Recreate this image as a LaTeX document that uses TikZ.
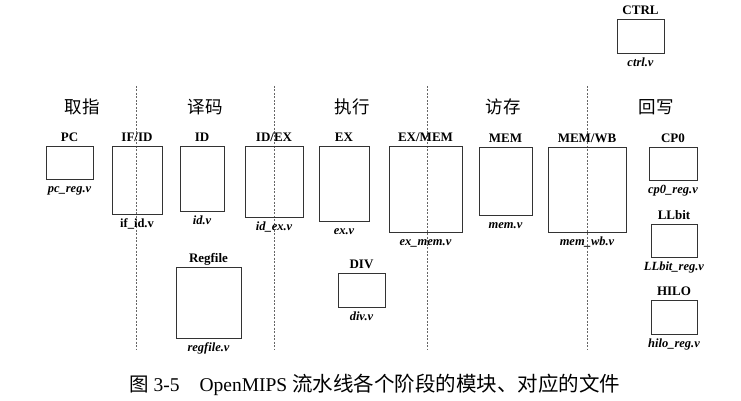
\documentclass[tikz,border=0pt]{standalone}
\usepackage{fontspec}
\setmainfont{Liberation Serif}
\newfontfamily\cjk{Noto Sans CJK SC}
\usetikzlibrary{fit}
\tikzset{
  blk/.style={draw=black!80, line width=0.8pt, inner sep=0pt},
  ttl/.style={font=\fontsize{13}{15}\selectfont\bfseries, anchor=base, inner sep=0pt},
  fil/.style={font=\fontsize{12.5}{14}\selectfont\bfseries\itshape, anchor=base, inner sep=0pt},
  stage/.style={font=\fontsize{17.5}{20}\selectfont\cjk, inner sep=0pt},
  sep/.style={draw=black!60, line width=0.6pt, dash pattern=on 2pt off 1.5pt}
}
\newcommand\modblk[7]{%
  \coordinate (#1-a) at (#2,#3);
  \coordinate (#1-b) at (#4,#5);
  \node[blk, fit=(#1-a)(#1-b)] (#1) {};
  \node[ttl, yshift=4pt] (#1-t) at (#1.north) {#6};
  \node[fil, yshift=-13pt] (#1-f) at (#1.south) {#7};
}
\begin{document}
\begin{tikzpicture}[x=1pt,y=-1pt]
\useasboundingbox (0,0) rectangle (741,401);
% separators
\draw[sep] (136,86) -- (136,350);
\draw[sep] (274,86) -- (274,350);
\draw[sep] (427,86) -- (427,350);
\draw[sep] (587,86) -- (587,350);
% stages
\node[stage] (s1) at (82,107) {取指};
\node[stage] (s2) at (205,107) {译码};
\node[stage] (s3) at (352,107) {执行};
\node[stage] (s4) at (503,107) {访存};
\node[stage] (s5) at (656,107) {回写};
% modules
\modblk{pc}{46}{146}{93}{179}{PC}{pc\_reg.v}
\modblk{ifid}{112}{146}{162}{214}{IF/ID}{\upshape if\_id.v}
\modblk{id}{180}{146}{224}{211}{ID}{id.v}
\modblk{idex}{245}{146}{303}{217}{ID/EX}{id\_ex.v}
\modblk{ex}{319}{146}{369}{221}{EX}{ex.v}
\modblk{exmem}{389}{146}{462}{232}{EX/MEM}{ex\_mem.v}
\modblk{mem}{479}{147}{532}{215}{MEM}{mem.v}
\modblk{memwb}{548}{147}{626}{232}{MEM/WB}{mem\_wb.v}
\modblk{cp0}{649}{147}{697}{180}{CP0}{cp0\_reg.v}
\modblk{llbit}{651}{224}{697}{257}{LLbit}{LLbit\_reg.v}
\modblk{hilo}{651}{300}{697}{334}{HILO}{hilo\_reg.v}
\modblk{regfile}{176}{267}{241}{338}{Regfile}{regfile.v}
\modblk{div}{338}{273}{385}{307}{DIV}{div.v}
\modblk{ctrl}{617}{19}{664}{53}{CTRL}{ctrl.v}
% caption
\node[anchor=base west, inner sep=0pt, font=\fontsize{19.5}{22}\selectfont] (cap) at (129,391)
  {{\cjk 图} 3-5\hspace{20pt}OpenMIPS {\fontsize{20.5}{22}\selectfont\cjk 流水线各个阶段的模块、对应的文件}};
\end{tikzpicture}
\end{document}
